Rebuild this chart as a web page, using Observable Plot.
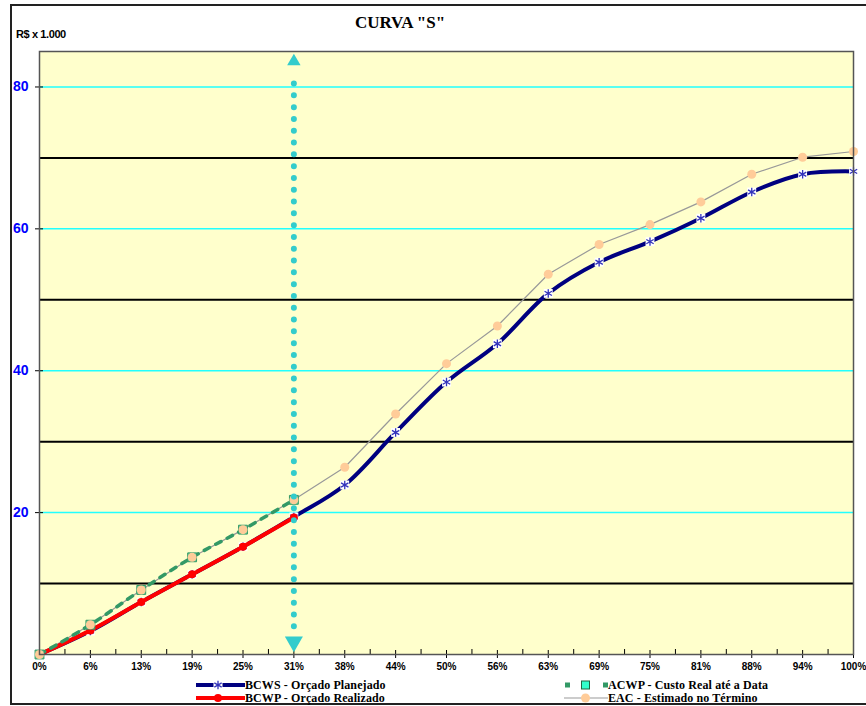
<!DOCTYPE html>
<html>
<head>
<meta charset="utf-8">
<script src="https://cdn.jsdelivr.net/npm/d3@7"></script>
<script src="https://cdn.jsdelivr.net/npm/@observablehq/plot@0.6"></script>
<style>
  html, body { margin:0; padding:0; background:#fff; width:866px; height:706px; overflow:hidden; }
  #wrap { position:relative; width:866px; height:706px; }
  #outer { position:absolute; left:10px; top:4px; width:880px; height:701px; border:2px solid #222; box-sizing:border-box; }
  #chart { position:absolute; left:0; top:0; }
  #title { position:absolute; left:300px; width:200px; top:13px; text-align:center; font:bold 17px "Liberation Serif", "Times New Roman", serif; color:#000; }
  #unit { position:absolute; left:16px; top:28px; font:bold 11px "Liberation Sans", Arial, sans-serif; letter-spacing:-0.4px; color:#000; }
  .leg { position:absolute; font:bold 12px "Liberation Serif", "Times New Roman", serif; color:#000; white-space:nowrap; letter-spacing:0.1px; line-height:12px; height:12px; }
  .sym { position:absolute; }
</style>
</head>
<body>
<div id="wrap">
  <div id="outer"></div>
  <div id="chart"></div>
  <div id="title">CURVA "S"</div>
  <div id="unit">R$ x 1.000</div>
  <div id="legend"></div>
</div>
<script>
// ---- data (R$ x 1.000) ----
const xLabels = ["0%","6%","13%","19%","25%","31%","38%","44%","50%","56%","63%","69%","75%","81%","88%","94%","100%"];
const bcws = [0, 3.3, 7.4, 11.3, 15.2, 19.4, 23.9, 31.3, 38.4, 43.8, 50.9, 55.3, 58.2, 61.5, 65.2, 67.7, 68.1];
const bcwp = [0, 3.4, 7.4, 11.3, 15.2, 19.3];
const acwp = [0, 4.2, 9.1, 13.7, 17.6, 21.8];
const eac  = [0, 4.2, 9.1, 13.7, 17.6, 21.8, 26.4, 33.9, 41.0, 46.3, 53.6, 57.8, 60.6, 63.8, 67.7, 70.1, 70.9];
const statusIndex = 5;          // data de status (31%)
const yMax = 85;
const cyanGrid = [20, 40, 60, 80];
const blackGrid = [10, 30, 50, 70];
const dottedSpan = [3.9, 81.8];
const arrowTop = 83.6, arrowBottom = 1.8;

const rows = arr => arr.map((v, i) => ({i, v}));
const minorTicks = d3.range(0.5, 16, 1);

const chart = Plot.plot({
  width: 866, height: 706,
  marginLeft: 39, marginRight: 13, marginTop: 51, marginBottom: 52,
  style: {background: "transparent", fontFamily: "'Liberation Sans', Arial, sans-serif"},
  x: {domain: [0, 16], label: null},
  y: {domain: [0, yMax], label: null},
  marks: [
    Plot.frame({fill: "#ffffcc", stroke: null}),
    Plot.ruleY(cyanGrid, {stroke: "#22ffff", strokeWidth: 1.5}),
    Plot.ruleY(blackGrid, {stroke: "#000", strokeWidth: 2}),
    // axes
    Plot.axisY({ticks: cyanGrid, tickSize: 8, dx: 4, tickFormat: () => "", stroke: "#000", label: null}),
    Plot.axisY({ticks: cyanGrid, tickSize: 0, tickPadding: 11, fill: "#0000ff", fontSize: 14, fontWeight: "bold", label: null}),
    Plot.axisX({ticks: d3.range(17), tickSize: 8, dy: -4, tickFormat: () => "", stroke: "#000", label: null}),
    Plot.axisX({ticks: minorTicks, tickSize: 5, dy: -5, tickFormat: () => "", stroke: "#000", label: null}),
    Plot.axisX({ticks: d3.range(17), tickSize: 0, tickPadding: 8, tickFormat: i => xLabels[i], fontSize: 10, fontWeight: "bold", fill: "#000", style: "letter-spacing:0.6px", label: null}),
    // EAC
    Plot.line(rows(eac), {x: "i", y: "v", stroke: "#999", strokeWidth: 1.2}),
    // BCWS
    Plot.line(rows(bcws), {x: "i", y: "v", stroke: "#000080", strokeWidth: 4, curve: "catmull-rom"}),
    Plot.dot(rows(bcws), {x: "i", y: "v", symbol: "square", r: 5, fill: "#fff"}),
    Plot.dot(rows(bcws), {x: "i", y: "v", symbol: "asterisk", r: 4, stroke: "#3333bb", strokeWidth: 1.3}),
    // BCWP
    Plot.line(rows(bcwp), {x: "i", y: "v", stroke: "#ff0000", strokeWidth: 4, curve: "catmull-rom"}),
    Plot.dot(rows(bcwp), {x: "i", y: "v", r: 4, fill: "#ff0000"}),
    // ACWP
    Plot.line(rows(acwp), {x: "i", y: "v", stroke: "#339966", strokeWidth: 3.5, strokeDasharray: "6 7", curve: "catmull-rom"}),
    Plot.dot(rows(acwp), {x: "i", y: "v", symbol: "square", r: 5, fill: "#66cc99", stroke: "#339966", strokeWidth: 1}),
    Plot.dot(rows(eac), {x: "i", y: "v", r: 4.5, fill: "#ffcc99"}),
    // data de status
    Plot.ruleX([statusIndex], {y1: dottedSpan[0], y2: dottedSpan[1], stroke: "#33cccc", strokeWidth: 6, strokeDasharray: "0 11.8", strokeLinecap: "round"}),
    Plot.dot([statusIndex], {x: d => d, y: () => arrowTop, symbol: "triangle", r: 5, fill: "#33cccc"}),
    Plot.dot([statusIndex], {x: d => d, y: () => arrowBottom, symbol: "triangle", r: 6.7, fill: "#33cccc", rotate: 180}),
    Plot.frame({stroke: "#555", strokeWidth: 1.5})
  ]
});
document.getElementById("chart").appendChild(chart);

// ---- legend ----
const legendItems = [
  {label: "BCWS - Orçado Planejado", x: 195, y: 679, w: 50, kind: "bcws"},
  {label: "BCWP - Orçado Realizado", x: 195, y: 692, w: 50, kind: "bcwp"},
  {label: "ACWP - Custo Real até a Data", x: 563, y: 679, w: 45, kind: "acwp"},
  {label: "EAC - Estimado no Término", x: 563, y: 692, w: 45, kind: "eac"}
];
const legend = document.getElementById("legend");
for (const it of legendItems) {
  const svg = d3.create("svg").attr("class", "sym").attr("width", it.w).attr("height", 12)
    .style("left", it.x + "px").style("top", it.y + "px");
  const cx = it.w / 2 + (it.kind === "acwp" || it.kind === "eac" ? 0 : -2);
  if (it.kind === "bcws") {
    svg.append("line").attr("x1", 1).attr("x2", it.w).attr("y1", 6).attr("y2", 6).attr("stroke", "#000080").attr("stroke-width", 4);
    svg.append("rect").attr("x", cx - 4.5).attr("y", 1.5).attr("width", 9).attr("height", 9).attr("fill", "#fff");
    svg.append("path").attr("transform", `translate(${cx},6)`).attr("d", d3.symbol(d3.symbolAsterisk, 50)()).attr("stroke", "#3333bb").attr("stroke-width", 1.3);
  } else if (it.kind === "bcwp") {
    svg.append("line").attr("x1", 1).attr("x2", it.w).attr("y1", 6).attr("y2", 6).attr("stroke", "#ff0000").attr("stroke-width", 4);
    svg.append("circle").attr("cx", cx).attr("cy", 6).attr("r", 4).attr("fill", "#ff0000");
  } else if (it.kind === "acwp") {
    svg.append("line").attr("x1", 2).attr("x2", it.w).attr("y1", 6).attr("y2", 6).attr("stroke", "#339966").attr("stroke-width", 5).attr("stroke-dasharray", "5 14");
    svg.append("rect").attr("x", cx - 4).attr("y", 2).attr("width", 8).attr("height", 8).attr("fill", "#33ffcc").attr("stroke", "#226644").attr("stroke-width", 1);
  } else {
    svg.append("line").attr("x1", 1).attr("x2", it.w).attr("y1", 6).attr("y2", 6).attr("stroke", "#999").attr("stroke-width", 1.2);
    svg.append("circle").attr("cx", cx).attr("cy", 6).attr("r", 4.5).attr("fill", "#ffcc99");
  }
  legend.appendChild(svg.node());
  const t = document.createElement("div");
  t.className = "leg";
  t.textContent = it.label;
  t.style.left = (it.x + it.w) + "px";
  t.style.top = it.y + "px";
  legend.appendChild(t);
}
</script>
</body>
</html>
